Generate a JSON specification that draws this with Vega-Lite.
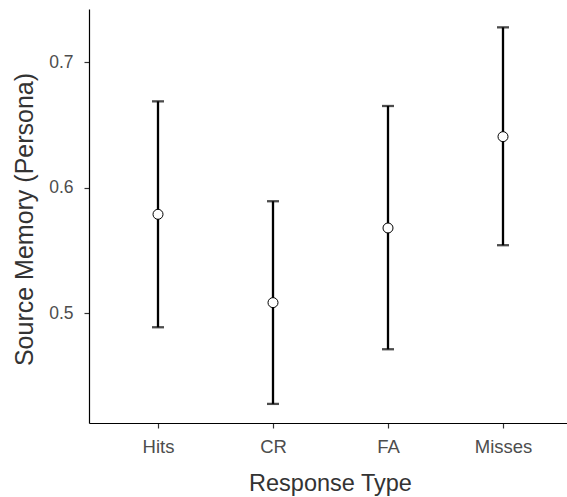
{
  "$schema": "https://vega.github.io/schema/vega-lite/v6.json",
  "autosize": {"type": "none"},
  "padding": {"left": 89, "top": 9, "right": 0, "bottom": 74},
  "width": 483,
  "height": 414,
  "background": "white",
  "config": {
    "view": {"stroke": null},
    "font": "Liberation Sans",
    "axis": {
      "grid": false,
      "domainColor": "#000000",
      "domainWidth": 1.2,
      "tickColor": "#333333",
      "tickWidth": 1.2,
      "tickSize": 5,
      "labelFont": "Liberation Sans",
      "labelColor": "#4d4d4d",
      "titleFont": "Liberation Sans",
      "titleFontWeight": "normal",
      "titleColor": "#333333"
    }
  },
  "data": {
    "values": [
      {"type": "Hits", "mean": 0.5788, "lower": 0.4889, "upper": 0.6687},
      {"type": "CR", "mean": 0.5085, "lower": 0.4279, "upper": 0.5892},
      {"type": "FA", "mean": 0.5679, "lower": 0.4714, "upper": 0.665},
      {"type": "Misses", "mean": 0.6406, "lower": 0.5542, "upper": 0.7276}
    ]
  },
  "encoding": {
    "x": {
      "field": "type",
      "type": "nominal",
      "sort": ["Hits", "CR", "FA", "Misses"],
      "scale": {"type": "point", "padding": 0.6},
      "axis": {
        "title": "Response Type",
        "labelAngle": 0,
        "labelFontSize": 18.5,
        "labelPadding": 9,
        "titleFontSize": 23.5,
        "titleX": 241,
        "titleY": 67,
        "titleAnchor": "middle",
        "titleAlign": "center",
        "titleBaseline": "alphabetic"
      }
    }
  },
  "layer": [
    {
      "mark": {"type": "errorbar", "thickness": 2.3, "color": "#000000", "ticks": {"size": 12, "thickness": 2.3, "color": "#000000"}},
      "encoding": {
        "y": {
          "field": "lower",
          "type": "quantitative",
          "scale": {"domain": [0.4127, 0.7422], "nice": false, "zero": false},
          "axis": {
            "title": "Source Memory (Persona)",
            "values": [0.5, 0.6, 0.7],
            "format": ".1f",
            "labelFontSize": 17.5,
            "labelPadding": 11,
            "titleFontSize": 25,
            "titleX": -57,
            "titleY": 210,
            "titleAngle": -90,
            "titleAnchor": "middle",
            "titleAlign": "center",
            "titleBaseline": "alphabetic"
          }
        },
        "y2": {"field": "upper"}
      }
    },
    {
      "mark": {"type": "point", "shape": "circle", "size": 100, "fill": "white", "stroke": "#000000", "strokeWidth": 1, "opacity": 1, "filled": false},
      "encoding": {
        "y": {"field": "mean", "type": "quantitative"}
      }
    }
  ]
}
